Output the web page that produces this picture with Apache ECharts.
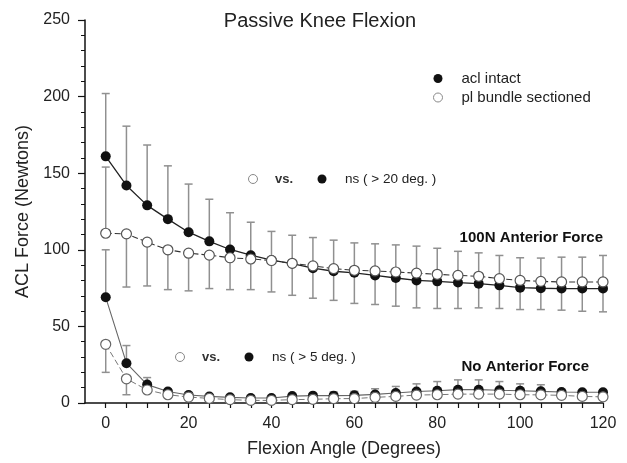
<!DOCTYPE html>
<html>
<head>
<meta charset="utf-8">
<script src="https://cdn.jsdelivr.net/npm/echarts@6.0.0/dist/echarts.min.js"></script>
<style>
  html, body { margin: 0; padding: 0; background: #fff; }
  #chart { width: 627px; height: 463px; }
</style>
</head>
<body>
<div id="chart"></div>
<script>
// flexion angles (deg)
var angles = [0, 5, 10, 15, 20, 25, 30, 35, 40, 45, 50, 55, 60, 65, 70, 75, 80, 85, 90, 95, 100, 105, 110, 115, 120];

// 100N anterior force
var intact100 = [161, 142, 129, 120, 111.5, 105.5, 100.2, 96.5, 93.3, 91, 88, 86, 85, 83.3, 81.6, 80, 79.4, 78.6, 77.9, 76.8, 75.3, 74.9, 74.7, 74.7, 74.7];
var intact100Bar = [202, 180.7, 168.4, 154.8, 142.9, 133, 124.2, 118, 112, 109.5, 108, 106.3, 104.5, 103.9, 103.2, 102.4, 101, 99, 98, 96.3, 94.8, 94.6, 95.2, 95.2, 96.3];
var cut100 = [110.8, 110.4, 105, 100, 97.8, 96.5, 94.8, 94, 93, 91.2, 89.5, 87.7, 86.6, 86.2, 85.5, 84.8, 84, 83.3, 82.7, 81.2, 80, 79.4, 79, 79, 79];
var cut100Bar = [154, 75.7, 76.4, 74, 73.2, 74.7, 74, 74, 72.5, 70.3, 68.4, 67, 65, 64.3, 63.2, 62.1, 61.7, 61.7, 62.1, 61.7, 61, 61, 60.6, 59.9, 59.5];

// no anterior force
var intact0 = [69, 26, 12, 7.5, 5.2, 4.3, 3.7, 3.3, 3.3, 4.5, 4.8, 4.8, 5, 5.6, 6.5, 7.5, 8, 8.7, 8.7, 8.3, 8, 7.6, 7.2, 7, 7];
var intact0Bar = [100, 37.5, 16.6, 9, 6.5, 5.5, 4.5, 4, 4, 5.5, 6, 7.2, 7.6, 9.3, 10.8, 12.5, 14, 15.1, 15.1, 14, 12.5, 11.9, 8, 7.5, 8.5];
var cut0 = [38.3, 15.8, 8.5, 5.4, 3.9, 3, 2.2, 1.7, 1.7, 2.2, 2.4, 2.8, 2.9, 3.7, 4.3, 5.2, 5.4, 5.8, 5.8, 5.8, 5.4, 5.3, 5, 4.3, 4];
var cut0Bar = [20, 5.4];

var xLabels = [0, 20, 40, 60, 80, 100, 120];
var xTicks = [0, 5, 10, 15, 20, 25, 30, 35, 40, 45, 50, 55, 60, 65, 70, 75, 80, 85, 90, 95, 100, 105, 110, 115, 120];

var font = 'Liberation Sans, Arial, sans-serif';

function pairs(ys) {
  return ys.map(function (y, i) { return [angles[i], y]; });
}
function bars(mean, end) {
  var out = [];
  for (var i = 0; i < end.length; i++) {
    if (end[i] != null) out.push([angles[i], mean[i], end[i]]);
  }
  return out;
}

// error bar: line from mean to end, cap at the end
function renderBar(params, api) {
  var x = api.value(0);
  var a = api.coord([x, api.value(1)]);
  var b = api.coord([x, api.value(2)]);
  var w = 4;
  var st = { stroke: '#909090', lineWidth: 1.5 };
  return {
    type: 'group',
    children: [
      { type: 'line', shape: { x1: a[0], y1: a[1], x2: b[0], y2: b[1] }, style: st },
      { type: 'line', shape: { x1: b[0] - w, y1: b[1], x2: b[0] + w, y2: b[1] }, style: st }
    ]
  };
}

function barSeries(name, data) {
  return {
    name: name, type: 'custom', renderItem: renderBar, data: data, z: 1,
    encode: { x: 0, y: [1, 2] }, silent: true
  };
}

var filledStyle = { color: '#111', borderWidth: 0 };
var openStyle = { color: '#fff', borderColor: '#555', borderWidth: 1.2 };

var chart = echarts.init(document.getElementById('chart'));
chart.setOption({
  animation: false,
  textStyle: { fontFamily: font },
  grid: { left: 85, right: 24, top: 20, bottom: 58 },
  legend: {
    orient: 'vertical', left: 428, top: 66, itemWidth: 9, itemHeight: 9, itemGap: 4,
    icon: 'circle',
    textStyle: { fontSize: 15, color: '#222', padding: [0, 0, 0, 14] },
    data: [
      { name: 'acl intact', itemStyle: { color: '#111', borderWidth: 0 } },
      { name: 'pl bundle sectioned', itemStyle: { color: '#fff', borderColor: '#888', borderWidth: 1 } }
    ]
  },
  xAxis: {
    type: 'value', min: -5, max: 120,
    name: 'Flexion Angle (Degrees)', nameLocation: 'middle', nameGap: 37,
    nameTextStyle: { fontSize: 18, color: '#222', fontFamily: font },
    axisLine: { onZero: false, lineStyle: { color: '#111', width: 1.5 } },
    axisTick: { show: true, length: 5, customValues: xTicks, lineStyle: { color: '#111', width: 1.2 } },
    axisLabel: { customValues: xLabels, fontSize: 16, color: '#222', margin: 13 },
    splitLine: { show: false }
  },
  yAxis: {
    type: 'value', min: 0, max: 250, interval: 50,
    name: 'ACL Force (Newtons)', nameLocation: 'middle', nameGap: 51,
    nameTextStyle: { fontSize: 18, color: '#222', fontFamily: font },
    axisLine: { show: true, onZero: false, lineStyle: { color: '#111', width: 1.5 } },
    axisTick: { show: true, length: 7, lineStyle: { color: '#111', width: 1.2 } },
    minorTick: { show: true, splitNumber: 5, length: 4, lineStyle: { color: '#111', width: 1 } },
    axisLabel: { fontSize: 16, color: '#222', margin: 15 },
    splitLine: { show: false }
  },
  series: [
    barSeries('err1', bars(intact100, intact100Bar)),
    barSeries('err2', bars(cut100, cut100Bar)),
    barSeries('err3', bars(intact0, intact0Bar)),
    barSeries('err4', bars(cut0, cut0Bar)),
    {
      name: 'acl intact', type: 'line', data: pairs(intact100), z: 3,
      symbol: 'circle', symbolSize: 10, itemStyle: filledStyle,
      lineStyle: { color: '#222', width: 1.3 }
    },
    {
      name: 'pl bundle sectioned', type: 'line', data: pairs(cut100), z: 4,
      symbol: 'circle', symbolSize: 10, itemStyle: openStyle,
      lineStyle: { color: '#333', width: 1.1, type: [6, 3] }
    },
    {
      name: 'acl intact', type: 'line', data: pairs(intact0), z: 3,
      symbol: 'circle', symbolSize: 10, itemStyle: filledStyle,
      lineStyle: { color: '#666', width: 1.1 }
    },
    {
      name: 'pl bundle sectioned', type: 'line', data: pairs(cut0), z: 4,
      symbol: 'circle', symbolSize: 10, itemStyle: { color: '#fff', borderColor: '#666', borderWidth: 1.2 },
      lineStyle: { color: '#777', width: 1, type: [6, 3] }
    }
  ],
  graphic: [
    { type: 'text', x: 320, y: 21, style: { text: 'Passive Knee Flexion', font: '20px ' + font, fill: '#222', textAlign: 'center', textVerticalAlign: 'middle' } },
    { type: 'circle', shape: { cx: 253, cy: 179, r: 4.5 }, style: { fill: '#fff', stroke: '#888', lineWidth: 1 } },
    { type: 'text', x: 275, y: 179, style: { text: 'vs.', font: 'bold 13px ' + font, fill: '#333', textVerticalAlign: 'middle' } },
    { type: 'circle', shape: { cx: 322, cy: 179, r: 4.5 }, style: { fill: '#111' } },
    { type: 'text', x: 345, y: 179, style: { text: 'ns ( > 20 deg. )', font: '13.5px ' + font, fill: '#222', textVerticalAlign: 'middle' } },
    { type: 'circle', shape: { cx: 180, cy: 357, r: 4.5 }, style: { fill: '#fff', stroke: '#888', lineWidth: 1 } },
    { type: 'text', x: 202, y: 357, style: { text: 'vs.', font: 'bold 13px ' + font, fill: '#333', textVerticalAlign: 'middle' } },
    { type: 'circle', shape: { cx: 249, cy: 357, r: 4.5 }, style: { fill: '#111' } },
    { type: 'text', x: 272, y: 357, style: { text: 'ns ( > 5 deg. )', font: '13.5px ' + font, fill: '#222', textVerticalAlign: 'middle' } },
    { type: 'text', x: 603, y: 238, style: { text: '100N Anterior Force', font: 'bold 15px ' + font, fill: '#111', textAlign: 'right', textVerticalAlign: 'middle' } },
    { type: 'text', x: 589, y: 367, style: { text: 'No Anterior Force', font: 'bold 15px ' + font, fill: '#111', textAlign: 'right', textVerticalAlign: 'middle' } }
  ]
});
</script>
</body>
</html>
